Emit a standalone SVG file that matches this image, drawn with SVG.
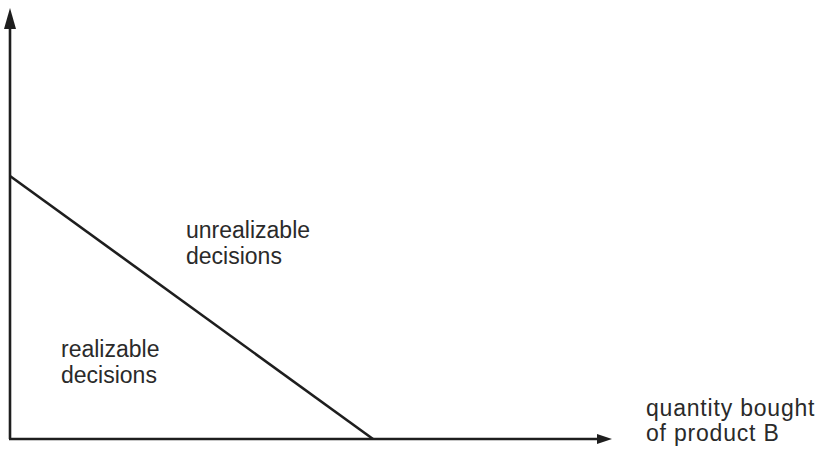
<svg xmlns="http://www.w3.org/2000/svg" width="825" height="470" viewBox="0 0 825 470">
<style>
.ax{stroke:#1e1e1e;stroke-width:2.6;fill:none}
.lbl{font-family:"Liberation Sans",Arial,sans-serif;font-size:23px;fill:#2a2a2a}
.wide{letter-spacing:0.8px}
</style>
<rect width="825" height="470" fill="#ffffff"/>
<g id="connectors">
<line class="ax" x1="10" y1="439" x2="10" y2="24"/>
<polygon points="10,8 4,29 16,29" fill="#1e1e1e"/>
<line class="ax" x1="9" y1="439" x2="598" y2="439"/>
<polygon points="612,439 597,434 597,444" fill="#1e1e1e"/>
<line class="ax" x1="10" y1="176" x2="373" y2="439"/>
</g>
<g id="unrealizable">
<text class="lbl" x="186" y="238">unrealizable</text>
<text class="lbl" x="186" y="264">decisions</text>
</g>
<g id="realizable">
<text class="lbl" x="61" y="357">realizable</text>
<text class="lbl" x="61" y="383">decisions</text>
</g>
<g id="xlabel">
<text class="lbl wide" x="646" y="416">quantity bought</text>
<text class="lbl wide" x="646" y="441">of product B</text>
</g>
</svg>
